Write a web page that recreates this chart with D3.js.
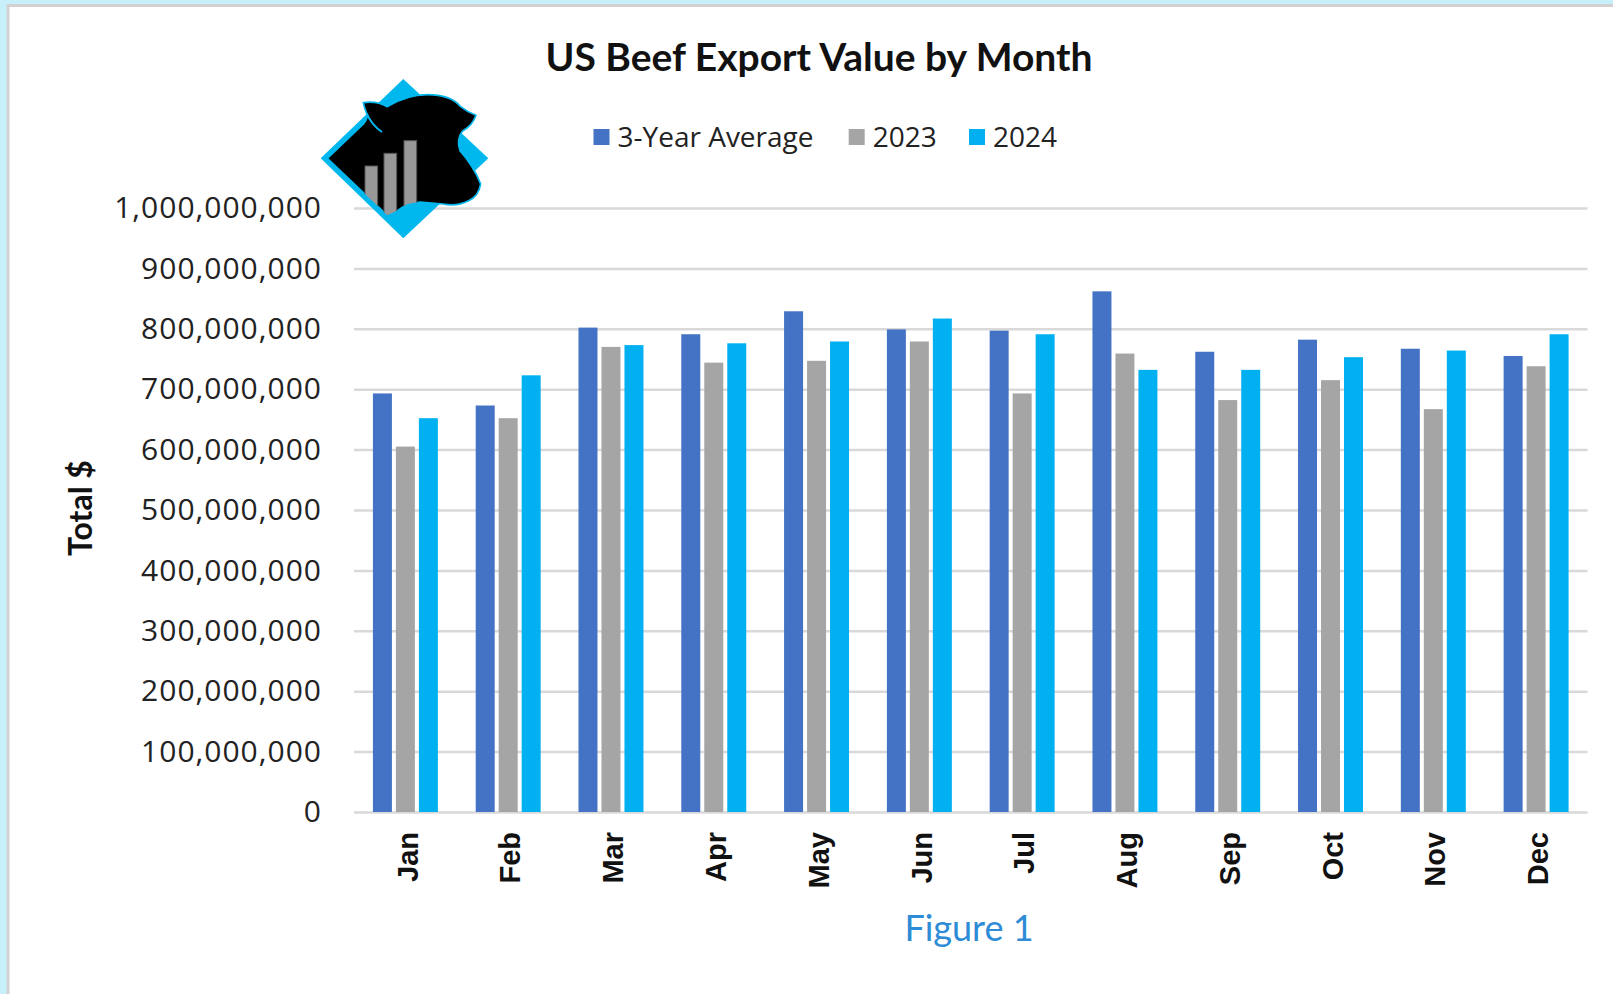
<!DOCTYPE html>
<html>
<head>
<meta charset="utf-8">
<script src="https://cdn.jsdelivr.net/npm/d3@7"></script>
<style>
  body { margin: 0; background: #c8f0fb; }
  svg { display: block; }
</style>
</head>
<body>
<script>
var width = 1613,
    height = 994;

// data
var months = ["Jan", "Feb", "Mar", "Apr", "May", "Jun", "Jul", "Aug", "Sep", "Oct", "Nov", "Dec"];
var seriesNames = ["3-Year Average", "2023", "2024"];
var avg3yr = [693e6, 673e6, 802e6, 791e6, 829e6, 799e6, 797e6, 862e6, 762e6, 782e6, 767e6, 755e6];
var y2023  = [605e6, 652e6, 770e6, 744e6, 747e6, 779e6, 693e6, 759e6, 682e6, 715e6, 667e6, 738e6];
var y2024  = [652e6, 723e6, 773e6, 776e6, 779e6, 817e6, 791e6, 732e6, 732e6, 753e6, 764e6, 791e6];
var colors = ["#4472c4", "#a5a5a5", "#00b0f0"];
var yTicks = [0, 1e8, 2e8, 3e8, 4e8, 5e8, 6e8, 7e8, 8e8, 9e8, 1e9];

var values = [avg3yr, y2023, y2024];
var rows = months.map(function(m, i) {
  return { month: m, vals: values.map(function(s, j) { return { key: seriesNames[j], value: s[i] }; }) };
});

var svg = d3.select("body").append("svg")
    .attr("width", width)
    .attr("height", height);

// frame
svg.append("rect")
    .attr("x", 0).attr("y", 0)
    .attr("width", width).attr("height", height)
    .attr("fill", "#c8f0fb");
svg.append("rect")
    .attr("x", 8).attr("y", 5.5)
    .attr("width", width + 10).attr("height", height + 10)
    .attr("fill", "#fff")
    .attr("stroke", "#d2d2d2")
    .attr("stroke-width", 3);

var plot = { left: 354, right: 1587.5, top: 208, bottom: 812 };

var x0 = d3.scaleBand()
    .domain(months)
    .range([plot.left, plot.right])
    .paddingInner(0.368)
    .paddingOuter(0.184);

var x1 = d3.scaleBand()
    .domain(seriesNames)
    .range([0, x0.bandwidth()])
    .paddingInner(0.174);

var y = d3.scaleLinear()
    .domain([0, 1e9])
    .range([plot.bottom, plot.top]);

// gridlines + y labels
var yAxis = svg.append("g")
    .attr("class", "y-axis")
    .attr("transform", "translate(" + plot.left + ",0)")
    .call(d3.axisLeft(y)
      .tickValues(yTicks)
      .tickSize(-(plot.right - plot.left))
      .tickPadding(32)
      .tickFormat(d3.format(",")));
yAxis.select(".domain").remove();
yAxis.selectAll(".tick line")
    .attr("stroke", "#d9d9d9")
    .attr("stroke-width", 2.5);
yAxis.selectAll(".tick text")
    .attr("fill", "#222")
    .style("font-family", "'Open Sans', sans-serif")
    .style("font-size", "30px")
    .style("letter-spacing", "1px");

// bars
var groups = svg.append("g")
  .selectAll("g")
  .data(rows)
  .enter().append("g")
    .attr("transform", function(d) { return "translate(" + x0(d.month) + ",0)"; });

groups.selectAll("rect")
  .data(function(d) { return d.vals; })
  .enter().append("rect")
    .attr("x", function(d) { return x1(d.key); })
    .attr("y", function(d) { return y(d.value); })
    .attr("width", x1.bandwidth())
    .attr("height", function(d) { return y(0) - y(d.value); })
    .attr("fill", function(d, i) { return colors[i]; });

// month labels
var xAxis = svg.append("g")
    .attr("transform", "translate(0," + plot.bottom + ")")
    .call(d3.axisBottom(x0).tickSize(0).tickPadding(0));
xAxis.select(".domain").remove();
xAxis.selectAll(".tick text")
    .attr("transform", "translate(2,20) rotate(-90)")
    .attr("dy", "0.35em")
    .attr("x", 0).attr("y", 0)
    .style("text-anchor", "end")
    .attr("fill", "#111")
    .style("font-family", "'Liberation Sans', Arial, sans-serif")
    .style("font-weight", "bold")
    .style("font-size", "29px");

// title
svg.append("text")
    .attr("x", 819)
    .attr("y", 71)
    .attr("text-anchor", "middle")
    .style("font-family", "Lato, sans-serif")
    .style("font-weight", "bold")
    .style("font-size", "39px")
    .attr("fill", "#111")
    .text("US Beef Export Value by Month");

// y axis title
svg.append("text")
    .attr("transform", "translate(92,508) rotate(-90)")
    .attr("text-anchor", "middle")
    .style("font-family", "Lato, sans-serif")
    .style("font-weight", "bold")
    .style("font-size", "32px")
    .attr("fill", "#111")
    .text("Total $");

// legend
var legendX = [593.5, 848.7, 969];
var legend = svg.append("g")
  .selectAll("g")
  .data(seriesNames)
  .enter().append("g")
    .attr("transform", function(d, i) { return "translate(" + legendX[i] + ",137)"; });
legend.append("rect")
    .attr("x", 0).attr("y", -8)
    .attr("width", 16).attr("height", 16)
    .attr("fill", function(d, i) { return colors[i]; });
legend.append("text")
    .attr("x", 24)
    .attr("dy", "0.35em")
    .style("font-family", "'Open Sans', sans-serif")
    .style("font-size", "28px")
    .attr("fill", "#222")
    .text(function(d) { return d; });

// caption
svg.append("text")
    .attr("x", 969)
    .attr("y", 941)
    .attr("text-anchor", "middle")
    .style("font-family", "Lato, sans-serif")
    .style("font-size", "36px")
    .attr("fill", "#2e8bd6")
    .text("Figure 1");

// logo: cyan diamond, cow head, little bars
var logo = svg.append("g")
    .attr("transform", "translate(300,60) scale(0.3333)");
var diamond = "M310,57 L565,295 L310,535 L62,295 Z";
var head = "M82,295 L192,190 Q205,175 200,160 Q192,140 190,128 Q230,122 262,140 Q320,104 382,104 " +
           "Q452,104 482,140 Q505,158 528,166 Q518,196 487,214 Q468,240 480,272 Q522,320 542,372 " +
           "Q536,410 506,422 Q470,440 430,432 L360,426 L322,432 L292,452 L262,466 Z";
logo.append("clipPath").attr("id", "headClip")
  .append("path").attr("d", head);
logo.append("path")
    .attr("d", diamond)
    .attr("fill", "#00b8ee");
logo.append("path")
    .attr("d", head)
    .attr("fill", "#000")
    .attr("stroke", "#00b8ee")
    .attr("stroke-width", 5)
    .attr("stroke-linejoin", "round");
logo.append("path")
    .attr("d", "M200,160 Q215,195 246,216")
    .attr("fill", "none")
    .attr("stroke", "#00b8ee")
    .attr("stroke-width", 6);
var logoBars = [[195, 318], [252, 280], [312, 242]];
logo.append("g")
    .attr("clip-path", "url(#headClip)")
  .selectAll("rect")
  .data(logoBars)
  .enter().append("rect")
    .attr("x", function(d) { return d[0]; })
    .attr("y", function(d) { return d[1]; })
    .attr("width", 38)
    .attr("height", 200)
    .attr("fill", "#989898")
    .attr("stroke", "#555")
    .attr("stroke-width", 3);
</script>
</body>
</html>
